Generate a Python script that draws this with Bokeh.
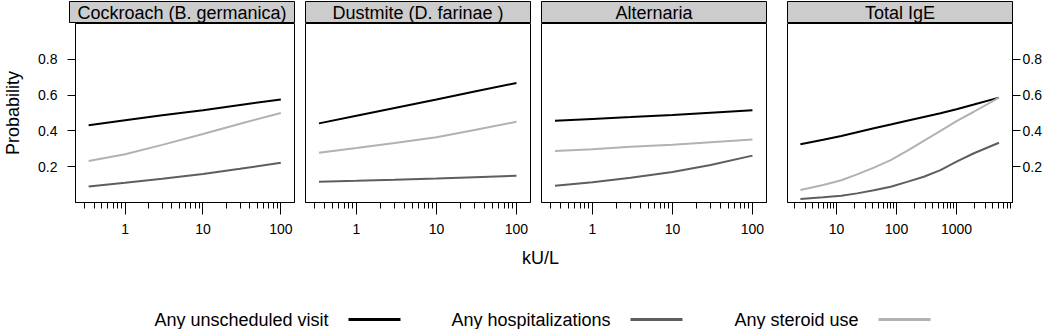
import math
from bokeh.plotting import figure
from bokeh.models import Range1d, FixedTicker, NumeralTickFormatter
from bokeh.layouts import row, column
from bokeh.embed import file_html
from bokeh.resources import INLINE
from bokeh.core.properties import value

FONT = "Liberation Sans"

# ---------------- data ----------------
panel_titles = ["Cockroach (B. germanica)", "Dustmite (D. farinae )", "Alternaria", "Total IgE"]
series_names = ["Any unscheduled visit", "Any hospitalizations", "Any steroid use"]
series_colors = ["#000000", "#5e5e5e", "#b2b2b2"]

x_allergen = [0.34, 1, 3, 10, 30, 100]
x_ige = [2.5, 6, 12, 22, 42, 80, 150, 285, 540, 1000, 1950, 5100]

cockroach_unsched = [0.432, 0.460, 0.487, 0.515, 0.545, 0.575]
cockroach_hosp = [0.090, 0.111, 0.133, 0.159, 0.188, 0.222]
cockroach_steroid = [0.232, 0.270, 0.322, 0.383, 0.440, 0.500]

dustmite_unsched = [0.442, 0.485, 0.528, 0.575, 0.620, 0.668]
dustmite_hosp = [0.116, 0.121, 0.127, 0.134, 0.141, 0.149]
dustmite_steroid = [0.278, 0.305, 0.333, 0.365, 0.405, 0.451]

alternaria_unsched = [0.457, 0.467, 0.477, 0.489, 0.502, 0.516]
alternaria_hosp = [0.094, 0.113, 0.138, 0.170, 0.210, 0.262]
alternaria_steroid = [0.288, 0.298, 0.311, 0.323, 0.337, 0.352]

ige_unsched = [0.325, 0.350, 0.372, 0.393, 0.415, 0.436, 0.457, 0.478, 0.499, 0.521, 0.547, 0.586]
ige_hosp = [0.020, 0.029, 0.038, 0.051, 0.068, 0.088, 0.115, 0.144, 0.181, 0.228, 0.275, 0.334]
ige_steroid = [0.070, 0.098, 0.124, 0.157, 0.195, 0.237, 0.288, 0.344, 0.400, 0.455, 0.507, 0.586]

xticks_allergen = [1, 10, 100]
xticks_ige = [10, 100, 1000]
yticks = [0.2, 0.4, 0.6, 0.8]

minor_allergen = [m * d for d in (0.1, 1, 10) for m in range(2, 10)]
minor_ige = [m * d for d in (1, 10, 100, 1000) for m in range(2, 10)]

x_axis_label = "kU/L"
y_axis_label = "Probability"

# ---------------- layout ----------------
STRIP_H = 23
PANEL_H = 219
range_allergen = (10 ** -0.637, 10 ** 2.1755)
range_ige = (10 ** 0.183, 10 ** 3.933)

# (width, border_left, border_right, y axis location)
panel_geom = [(299, 69, 5, "left"), (236, 6, 5, None), (241, 6, 10, None), (274, 11, 38, "right")]


def make_strip(title, width, bl, br):
    s = figure(width=width, height=STRIP_H, x_range=Range1d(0, 1), y_range=Range1d(0, 1),
               output_backend="svg", toolbar_location=None,
               x_axis_location=None, y_axis_location=None,
               min_border_left=bl, min_border_right=br, min_border_top=1, min_border_bottom=0)
    s.xgrid.visible = False
    s.ygrid.visible = False
    s.background_fill_color = "#cccccc"
    s.border_fill_color = "white"
    s.outline_line_color = "black"
    s.outline_line_width = 1
    s.text(x=[0.5], y=[0.5], text=[title], text_align="center", text_baseline="middle",
           text_font=value(FONT), text_font_size="18px", text_color="black")
    return s


def make_panel(xs, series, xr, ticks, minor, width, bl, br, ypos):
    p = figure(width=width, height=PANEL_H, x_axis_type="log",
               x_range=Range1d(*xr), y_range=Range1d(0, 1),
               output_backend="svg", toolbar_location=None,
               y_axis_location=ypos,
               min_border_left=bl, min_border_right=br,
               min_border_top=0, min_border_bottom=40)
    p.xgrid.visible = False
    p.ygrid.visible = False
    p.outline_line_color = "black"
    p.outline_line_width = 1
    p.background_fill_color = "white"
    p.border_fill_color = "white"

    xa = p.xaxis[0]
    xa.ticker = FixedTicker(ticks=ticks, minor_ticks=minor)
    xa.formatter = NumeralTickFormatter(format="0")
    xa.major_tick_out = 12
    xa.major_tick_in = 0
    xa.minor_tick_out = 6
    xa.minor_tick_in = 0
    xa.axis_line_color = "black"
    xa.major_tick_line_color = "black"
    xa.minor_tick_line_color = "black"
    xa.major_label_text_font = FONT
    xa.major_label_text_font_size = "14px"
    xa.major_label_text_color = "black"
    xa.major_label_standoff = 9

    if ypos is not None:
        ya = p.yaxis[0]
        ya.ticker = FixedTicker(ticks=yticks)
        ya.major_tick_out = 8
        ya.major_tick_in = 0
        ya.minor_tick_line_color = None
        ya.axis_line_color = "black"
        ya.major_label_text_font = FONT
        ya.major_label_text_font_size = "14px"
        ya.major_label_text_color = "black"
        ya.major_label_standoff = 10 if ypos == "left" else 2
        if ypos == "left":
            ya.axis_label = y_axis_label
            ya.axis_label_text_font = FONT
            ya.axis_label_text_font_size = "18px"
            ya.axis_label_text_font_style = "normal"
            ya.axis_label_text_color = "black"
            ya.axis_label_standoff = 12

    for ys, c in zip(series, series_colors):
        p.line(xs, ys, line_color=c, line_width=2)
    return p


panel_series = [
    [cockroach_unsched, cockroach_hosp, cockroach_steroid],
    [dustmite_unsched, dustmite_hosp, dustmite_steroid],
    [alternaria_unsched, alternaria_hosp, alternaria_steroid],
    [ige_unsched, ige_hosp, ige_steroid],
]
panel_x = [x_allergen, x_allergen, x_allergen, x_ige]
panel_range = [range_allergen, range_allergen, range_allergen, range_ige]
panel_ticks = [xticks_allergen, xticks_allergen, xticks_allergen, xticks_ige]
panel_minor = [minor_allergen, minor_allergen, minor_allergen, minor_ige]

strips = []
panels = []
for i in range(4):
    w, bl, br, ypos = panel_geom[i]
    strips.append(make_strip(panel_titles[i], w, bl, br))
    panels.append(make_panel(panel_x[i], panel_series[i], panel_range[i],
                             panel_ticks[i], panel_minor[i], w, bl, br, ypos))

# bottom: axis label + legend
BOT_H = 329 - STRIP_H - PANEL_H
pb = figure(width=1050, height=BOT_H, x_range=Range1d(0, 1050), y_range=Range1d(0, BOT_H),
            output_backend="svg", toolbar_location=None,
            x_axis_location=None, y_axis_location=None, min_border=0)
pb.xgrid.visible = False
pb.ygrid.visible = False
pb.outline_line_color = None
pb.border_fill_color = "white"

pb.text(x=[540], y=[BOT_H - 15], text=[x_axis_label], text_align="center",
        text_baseline="middle", text_font=value(FONT), text_font_size="18px",
        text_color="black")

legend_line_start = [348, 630, 878]
legend_line_len = 52
legend_y = BOT_H - 77
pb.text(x=[s - 20 for s in legend_line_start], y=[legend_y] * 3, text=series_names,
        text_align="right", text_baseline="middle", text_font=value(FONT),
        text_font_size="18px", text_color="black")
pb.segment(x0=legend_line_start, y0=[legend_y] * 3,
           x1=[s + legend_line_len for s in legend_line_start], y1=[legend_y] * 3,
           line_color=series_colors, line_width=3)

layout = column(row(*strips), row(*panels), pb)
open("out.html", "w").write(file_html(layout, INLINE))
